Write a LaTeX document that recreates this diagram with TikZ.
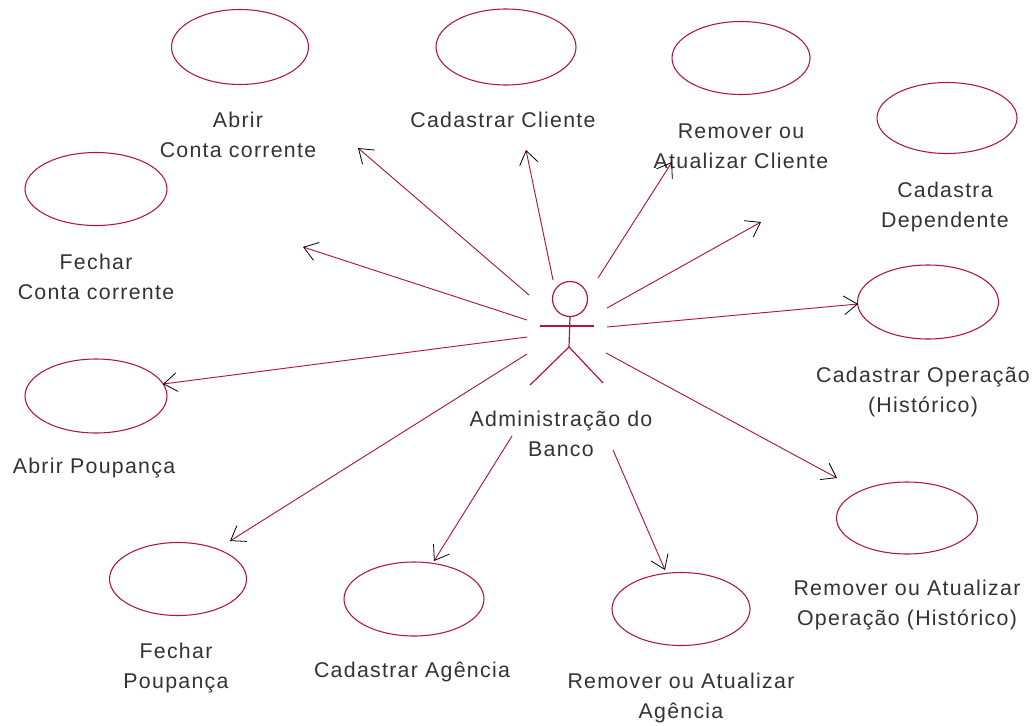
\documentclass[tikz,border=0pt]{standalone}
\usepackage{fontspec}
\setmainfont[LetterSpace=6]{Liberation Sans}
\usetikzlibrary{arrows.meta,shapes.geometric}
\definecolor{umlred}{RGB}{176,20,70}
\tikzset{
  usecase/.style={draw=umlred,ellipse,inner sep=0pt,line width=0.8pt},
  caption/.style={align=center,text=black!80,font=\fontsize{16}{22.5}\selectfont,inner sep=0pt},
  actorline/.style={draw=umlred,line width=0.9pt},
  assoc/.style={draw=umlred,line width=0.7pt,-{Straight Barb[color=black,length=10pt,width=14pt,line width=0.6pt]}}
}
\begin{document}
\begin{tikzpicture}[x=0.75pt,y=-0.75pt]
\useasboundingbox (0,0) rectangle (1034,725);
% use cases
\foreach \n/\x/\y/\w/\h in {abrirconta/240/47/137/75,cadcliente/506/47/140/76,remcliente/741/58/138/73,caddep/947/118/140/71,
  fecharconta/96/189/142/73,cadoper/928/302/141/74,abrirpoup/96/396/142/74,fecharpoup/178/579/137/73,
  cadag/414/599/140/74,remag/681/609/138/73,remoper/907/518/141/72}
  \node[usecase,minimum width=\w*0.75pt,minimum height=\h*0.75pt] (\n) at (\x,\y) {};
% labels
\node[caption] (labelA) at (238,135) {Abrir\\Conta corrente};
\node[caption] (labelB) at (503,120) {Cadastrar Cliente};
\node[caption] (labelC) at (741,146) {Remover ou\\Atualizar Cliente};
\node[caption] (labelD) at (945,207) {Cadastra\\Dependente};
\node[caption] (labelE) at (96,277) {Fechar\\Conta corrente};
\node[caption] (labelF) at (923,392) {Cadastrar Operação\\(Histórico)};
\node[caption] (labelG) at (94,468) {Abrir Poupança};
\node[caption] (labelH) at (176,668) {Fechar\\Poupança};
\node[caption] (labelI) at (412,672) {Cadastrar Agência};
\node[caption] (labelJ) at (681,698) {Remover ou Atualizar\\Agência};
\node[caption] (labelK) at (907,605) {Remover ou Atualizar\\Operação (Histórico)};
\node[caption] (labelL) at (561,434) {Administração do\\Banco};
% actor
\node[actorline,circle,minimum size=35*0.75pt,inner sep=0pt] (head) at (570,299) {};
\coordinate (hip) at (569,347);
\coordinate (armL) at (540,326);
\coordinate (armR) at (594,326);
\coordinate (footL) at (530,385);
\coordinate (footR) at (603,383);
\draw[actorline] (head.south) -- (hip);
\draw[actorline] (armL) -- (armR);
\draw[actorline] (footL) -- (hip) -- (footR);
% association ends
\foreach \n/\x/\y in {s1/529/295,s2/553/280,s3/598/278,s4/607/308,s5/607/327,s6/606/353,s7/613/450,s8/512/436,s9/527/354,s10/527/337,s11/527/320,
  e1/358/148,e2/526/150,e3/672/162,e4/761/222,e5/858/304,e6/837/478,e7/665/570,e8/434/561,e9/230/541,e10/163/384,e11/303/247}
  \coordinate (\n) at (\x,\y);
\foreach \a in {1,...,11}
  \draw[assoc] (s\a) -- (e\a);
\end{tikzpicture}
\end{document}
